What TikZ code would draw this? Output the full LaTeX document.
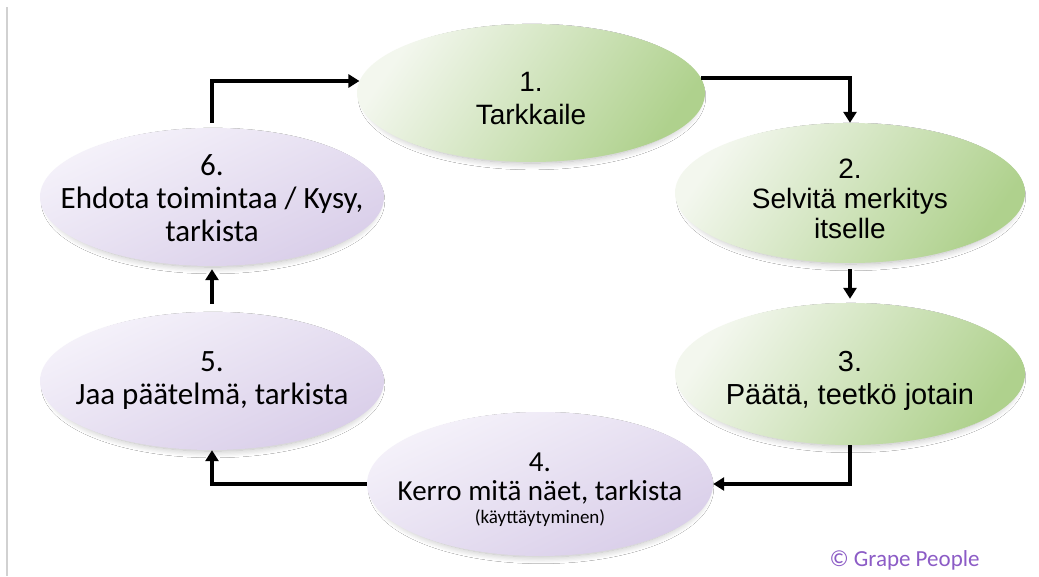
\documentclass[tikz,border=0pt]{standalone}
\usepackage{fontspec}
\setmainfont{Liberation Sans}
\newfontfamily\calf{Carlito}
\usetikzlibrary{shapes.geometric,arrows.meta,shadows.blur}
\definecolor{gLight}{HTML}{F3F7EE}
\definecolor{gDark}{HTML}{AFD18D}
\definecolor{pLight}{HTML}{F5F2FA}
\definecolor{pDark}{HTML}{D9CEE9}
\definecolor{grape}{HTML}{8C5CC6}
\tikzset{
  ell/.style={ellipse, inner sep=0pt, blur shadow={shadow xshift=1pt, shadow yshift=-4pt, shadow scale=0.96, shadow blur steps=12, shadow blur radius=7pt, shadow opacity=28}},
  greenell/.style={ell, shading=axis, top color=gLight, bottom color=gDark, shading angle=55},
  purpleell/.style={ell, shading=axis, top color=pLight, bottom color=pDark, shading angle=25},
  arialtxt/.style={align=center, font=\fontsize{28}{32}\selectfont, text=black},
  caltxt/.style={align=center, font=\calf\fontsize{31}{33}\selectfont, text=black},
  conn/.style={line width=4pt, -{Triangle[width=13pt,length=11pt]}},
}
\begin{document}
\begin{tikzpicture}[x=1pt,y=-1pt]
\useasboundingbox[fill=white] (0,0) rectangle (1039,576);
\draw[black!18, line width=1.5pt] (7,7) -- (7,576);

\node[greenell, minimum width=348pt, minimum height=138pt] (e1) at (531,93) {};
\node[greenell, minimum width=350pt, minimum height=140pt] (e2) at (850,193) {};
\node[greenell, minimum width=350pt, minimum height=142pt] (e3) at (850,374) {};
\node[purpleell, minimum width=346pt, minimum height=144pt] (e4) at (540,484) {};
\node[purpleell, minimum width=344pt, minimum height=138pt] (e5) at (212,381) {};
\node[purpleell, minimum width=344pt, minimum height=138pt] (e6) at (212,197) {};

\node[arialtxt, font=\fontsize{28}{33}\selectfont] (t1) at (531,99) {1.\\Tarkkaile};
\node[arialtxt, font=\fontsize{28}{30}\selectfont] (t2) at (850,199) {2.\\Selvitä merkitys\\itselle};
\node[arialtxt, font=\fontsize{29}{33}\selectfont] (t3) at (850,381) {3.\\Päätä, teetkö jotain};
\node[caltxt, font=\calf\fontsize{29}{29}\selectfont] (t4) at (540,490) {4.\\Kerro mitä näet, tarkista\\[-6pt]{\fontsize{19}{22}\selectfont (käyttäytyminen)}};
\node[caltxt] (t5) at (212,381) {5.\\Jaa päätelmä, tarkista};
\node[caltxt] (t6) at (212,198) {6.\\Ehdota toimintaa / Kysy,\\tarkista};

\node[font=\calf\fontsize{23}{24}\selectfont, text=grape, anchor=west] (cr) at (826,560) {© Grape People};

\draw[conn] (e6.north) ++(0,-5) coordinate (s6) (s6) |- (e1.176);
\draw[conn] (e1.5) -| (e2.north);
\draw[conn, shorten <=6pt, shorten >=4pt] (e2.south) -- (e3.north);
\draw[conn] (e3.south) |- (e4.east);
\draw[conn] (e4.west) -| (e5.south);
\draw[conn, shorten <=8pt, shorten >=3pt] (e5.north) -- (e6.south);
\end{tikzpicture}
\end{document}
